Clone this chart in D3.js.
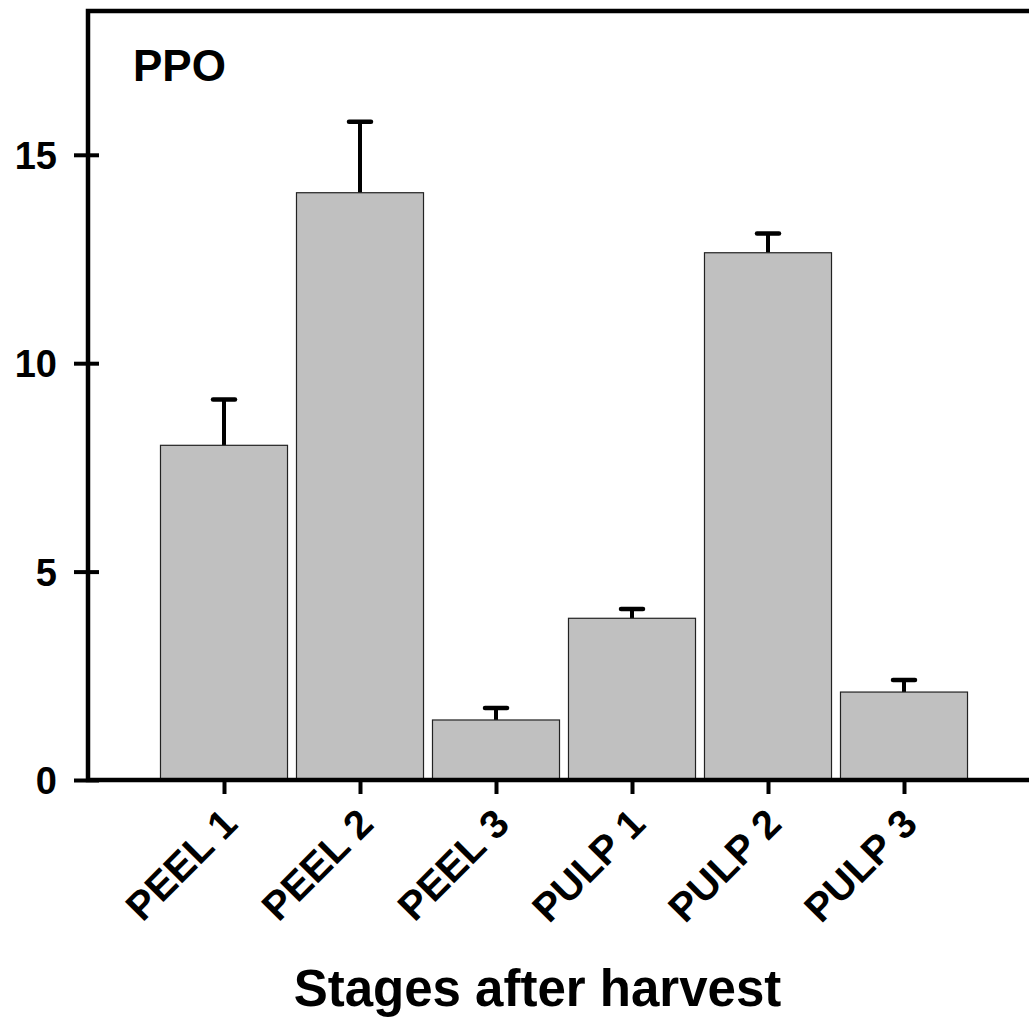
<!DOCTYPE html>
<html>
<head>
<meta charset="utf-8">
<script src="https://cdn.jsdelivr.net/npm/d3@7/dist/d3.min.js"></script>
<style>
  html, body { margin: 0; padding: 0; background: #fff; }
  svg { display: block; font-family: "Liberation Sans", Arial, sans-serif; font-weight: bold; }
</style>
</head>
<body>
<svg id="chart" width="1029" height="1017"></svg>
<script>
// PPO activity by stage after harvest (mean and upper error)
const categories = ["PEEL 1", "PEEL 2", "PEEL 3", "PULP 1", "PULP 2", "PULP 3"];
const means      = [8.03, 14.09, 1.44, 3.88, 12.65, 2.11];
const errors     = [1.10, 1.70, 0.29, 0.22, 0.46, 0.29];
const yTicks     = [0, 5, 10, 15];
const panelLabel = "PPO";
const xTitle     = "Stages after harvest";

(function draw() {
  const svg = d3.select("#chart");
  const mLeft = 88, mTop = 11, mBottom = 780, mRight = 1040;

  const x = d3.scaleLinear().domain([0, categories.length + 1]).range([mLeft, mRight]);
  const y = d3.scaleLinear().domain([0, 18.45]).range([mBottom, mTop]);
  const step = x(1) - x(0);
  const barW = step * 0.934;

  const data = categories.map((c, i) => ({ c, i: i + 1, m: means[i], e: errors[i] }));

  // error bars (drawn first so the bar top covers the lower part)
  const eb = svg.append("g");
  eb.selectAll("line.stem").data(data).join("line").attr("class", "stem")
    .attr("x1", d => x(d.i)).attr("x2", d => x(d.i))
    .attr("y1", d => y(d.m)).attr("y2", d => y(d.m + d.e))
    .attr("stroke", "#000").attr("stroke-width", 4);
  eb.selectAll("line.cap").data(data).join("line").attr("class", "cap")
    .attr("x1", d => x(d.i) - 11).attr("x2", d => x(d.i) + 11)
    .attr("y1", d => y(d.m + d.e)).attr("y2", d => y(d.m + d.e))
    .attr("stroke", "#000").attr("stroke-width", 4.5).attr("stroke-linecap", "round");

  // bars
  svg.append("g").selectAll("rect").data(data).join("rect")
    .attr("x", d => x(d.i) - barW / 2)
    .attr("y", d => y(d.m))
    .attr("width", barW)
    .attr("height", d => y(0) - y(d.m))
    .attr("fill", "#c0c0c0")
    .attr("stroke", "#222").attr("stroke-width", 1.2);

  // frame
  svg.append("rect")
    .attr("x", mLeft).attr("y", mTop)
    .attr("width", mRight - mLeft).attr("height", mBottom - mTop)
    .attr("fill", "none").attr("stroke", "#000").attr("stroke-width", 4.5);

  // y axis
  const yAxis = d3.axisLeft(y).tickValues(yTicks).tickSize(14).tickPadding(17).tickFormat(d3.format("d"));
  const gy = svg.append("g").attr("transform", `translate(${mLeft},0)`).call(yAxis);
  gy.select(".domain").remove();
  gy.selectAll(".tick line").attr("stroke", "#000").attr("stroke-width", 4)
    .attr("x1", 11).attr("x2", -14);
  gy.selectAll(".tick text").attr("font-size", 38).attr("font-weight", "bold")
    .attr("font-family", "Liberation Sans, Arial, sans-serif").attr("fill", "#000").attr("dy", "0.36em");

  // x axis
  const xAxis = d3.axisBottom(x).tickValues(d3.range(1, categories.length + 1))
    .tickSize(14).tickFormat(i => categories[i - 1]);
  const gx = svg.append("g").attr("transform", `translate(0,${mBottom})`).call(xAxis);
  gx.select(".domain").remove();
  gx.selectAll(".tick line").attr("stroke", "#000").attr("stroke-width", 4);
  gx.selectAll(".tick text")
    .attr("font-size", 40).attr("font-weight", "bold")
    .attr("font-family", "Liberation Sans, Arial, sans-serif").attr("fill", "#000")
    .attr("text-anchor", "end")
    .attr("y", 0).attr("dy", 0)
    .attr("transform", "translate(15,46) rotate(-45)");

  // panel label
  svg.append("text").attr("x", 133).attr("y", 81)
    .attr("font-size", 44).attr("fill", "#000").text(panelLabel);

  // x title
  svg.append("text").attr("x", (295 + 780) / 2).attr("y", 1006)
    .attr("text-anchor", "middle").attr("font-size", 51).attr("fill", "#000").text(xTitle);
})();
</script>
</body>
</html>
